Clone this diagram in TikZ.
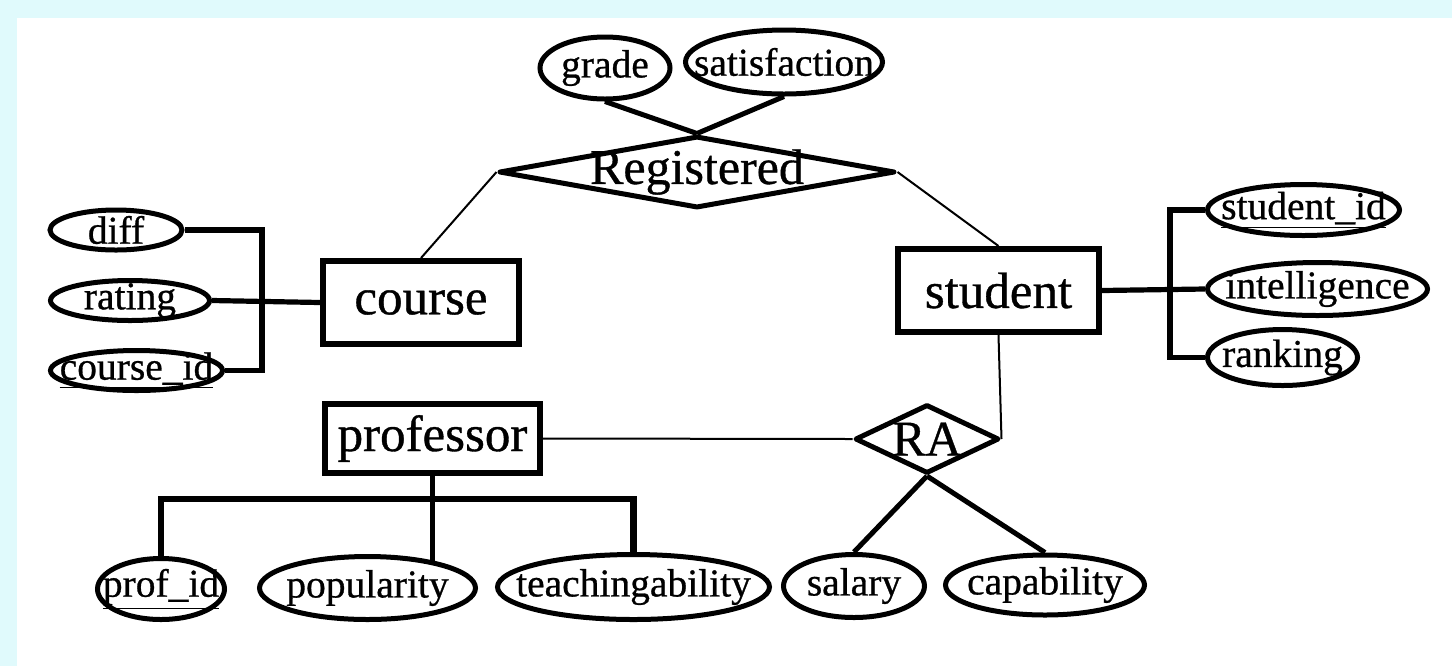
\documentclass[tikz,border=0pt]{standalone}
\usepackage{fontspec}
\setmainfont{Liberation Serif}[FakeBold=0.7]
\usetikzlibrary{shapes.geometric}

\definecolor{bgcyan}{RGB}{224,250,252}

\tikzset{
  entity/.style={draw, rectangle, line width=3pt, inner sep=0pt,
    font=\fontsize{25.5}{28}\selectfont},
  attr/.style={draw, ellipse, line width=2.5pt, inner sep=0pt,
    label={[font=\fontsize{19.75}{22}\selectfont]center:#1}},
  rel/.style={draw, diamond, line width=2.5pt, line join=round, inner sep=0pt,
    label={[font=\fontsize{25}{28}\selectfont]center:#1}},
  thinlink/.style={line width=1pt},
  attrlink/.style={line width=2.5pt},
  bracket/.style={line width=2.6pt},
}

\begin{document}
\begin{tikzpicture}[x=0.5pt, y=-0.5pt]
\useasboundingbox (0,0) rectangle (1452,666);
\fill[bgcyan] (0,0) rectangle (1452,666);
\fill[white] (17,18) rectangle (1452,666);

% relationship Registered
\node[rel=Registered, minimum width=198pt, minimum height=36pt] (reg) at (697,172) {};
\node[attr=grade, minimum width=65pt, minimum height=31pt] (grade) at (605,68) {};
\node[attr=satisfaction, minimum width=98.5pt, minimum height=32pt] (sat) at (784,62) {};

% entities
\node[entity, minimum width=98pt, minimum height=41.5pt] (course) at (421,302.5) {course};
\node[entity, minimum width=100.5pt, minimum height=41.5pt] (student) at (998.5,290.5) {student};
\node[entity, minimum width=107.5pt, minimum height=34.5pt] (prof) at (432.5,438.5) {professor};

% course attributes
\node[attr=diff, minimum width=66pt, minimum height=20pt] (diff) at (116,230) {};
\node[attr=rating, minimum width=79.5pt, minimum height=20pt] (rating) at (130,300.5) {};
\node[attr=\underline{course\_id}, minimum width=86pt, minimum height=20pt] (cid) at (136.5,370.5) {};

% student attributes
\node[attr=\underline{student\_id}, minimum width=96pt, minimum height=25.5pt] (sid) at (1303.5,210) {};
\node[attr=intelligence, minimum width=110pt, minimum height=26.5pt] (intel) at (1317.5,289) {};
\node[attr=ranking, minimum width=75pt, minimum height=28pt] (rank) at (1282.5,357.5) {};

% relationship RA
\node[rel=RA, minimum width=72pt, minimum height=34.5pt] (ra) at (927,439) {};
\node[attr=salary, minimum width=70.5pt, minimum height=31.5pt] (salary) at (854,586) {};
\node[attr=capability, minimum width=99.5pt, minimum height=30pt] (cap) at (1045,585) {};

% professor attributes
\node[attr=\underline{prof\_id}, minimum width=63.5pt, minimum height=30.5pt] (pid) at (161,589) {};
\node[attr=popularity, minimum width=108pt, minimum height=31.5pt] (pop) at (367.5,588) {};
\node[attr=teachingability, minimum width=136pt, minimum height=32.5pt] (teach) at (633.5,587) {};

\coordinate (cbr) at (262,300.5);
\coordinate (sbr) at (1170,289);
\coordinate (pbr) at (432.5,499);

% links
\draw[attrlink] (grade.south) -- (reg.north);
\draw[attrlink] (sat.south) -- (reg.north);
\draw[thinlink] (reg.west) -- (course.north);
\draw[thinlink] (reg.east) -- (student.north);
\draw[thinlink] (student.south) -- (ra.east);
\draw[thinlink] (prof.east) -- (ra.west);
\draw[attrlink] (ra.south) -- (salary.north);
\draw[attrlink] (ra.south) -- (cap.north);

\draw[bracket] (diff.east) -| (cbr) |- (cid.east);
\draw[bracket] (rating.east) -- (course.west);
\draw[bracket] (sid.west) -| (sbr) |- (rank.west);
\draw[bracket] (student.east) -- (intel.west);
\draw[bracket, line width=3.2pt] (pid.north) |- (pbr) -| (teach.north);
\draw[line width=2.2pt] (prof.south) -- (pbr);
\draw[bracket] (pbr) -- (pbr |- pop.22);

\end{tikzpicture}
\end{document}
